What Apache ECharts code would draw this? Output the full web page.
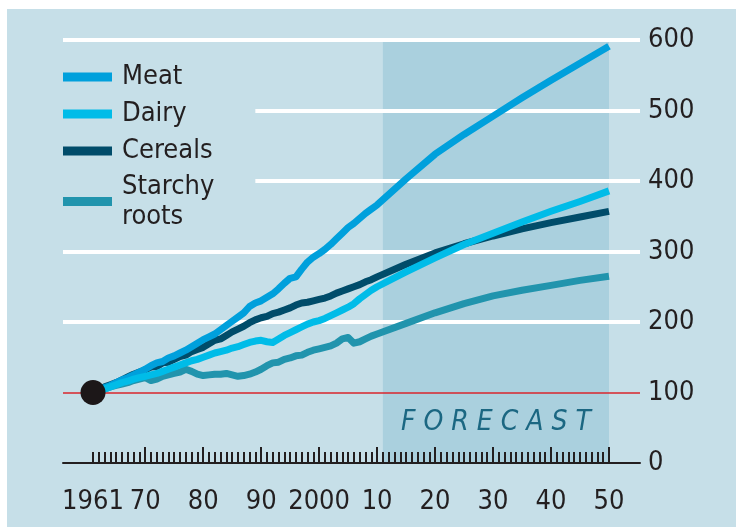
<!DOCTYPE html>
<html>
<head>
<meta charset="utf-8">
<script src="https://cdn.jsdelivr.net/npm/echarts@6/dist/echarts.min.js"></script>
<style>
  html, body { margin: 0; padding: 0; background: #ffffff; }
  #chart { width: 736px; height: 527px; }
</style>
</head>
<body>
<div id="chart"></div>
<script>
// Food consumption index, 1961 = 100 (history to 2010, forecast to 2050)
const years = [
  1961, 1962, 1963, 1964, 1965, 1966, 1967, 1968, 1969, 1970,
  1971, 1972, 1973, 1974, 1975, 1976, 1977, 1978, 1979, 1980,
  1981, 1982, 1983, 1984, 1985, 1986, 1987, 1988, 1989, 1990,
  1991, 1992, 1993, 1994, 1995, 1996, 1997, 1998, 1999, 2000,
  2001, 2002, 2003, 2004, 2005, 2006, 2007, 2008, 2009, 2010,
  2015, 2020, 2025, 2030, 2035, 2040, 2045, 2050
];

const meat = [
  100, 104, 107, 110, 114, 118, 121, 125, 129, 133,
  138, 142, 144, 149, 152, 156, 160, 165, 170, 175,
  179, 183, 189, 195, 201, 207, 213, 222, 227, 230,
  235, 240, 247, 255, 262, 264, 275, 285, 292, 297,
  303, 310, 318, 326, 334, 340, 347, 354, 360, 366,
  403, 438, 466, 492, 518, 543, 567, 591
];

const dairy = [
  100, 102, 105, 108, 111, 114, 116, 119, 121, 123,
  125, 127, 130, 133, 136, 139, 142, 145, 147, 150,
  153, 156, 158, 160, 163, 165, 168, 171, 173, 174,
  172, 171, 176, 181, 185, 189, 193, 197, 200, 202,
  205, 209, 213, 217, 221, 226, 233, 239, 245, 250,
  271, 291, 310, 326, 342, 357, 371, 386
];

const cereals = [
  100, 104, 108, 111, 114, 118, 122, 126, 129, 132,
  136, 137, 142, 143, 147, 151, 153, 158, 161, 164,
  169, 174, 176, 181, 186, 190, 194, 199, 203, 206,
  208, 212, 214, 217, 220, 224, 227, 228, 230, 232,
  234, 237, 241, 244, 247, 250, 253, 257, 260, 264,
  282, 298, 311, 322, 332, 341, 349, 357
];

const starchyRoots = [
  100, 103, 105, 108, 110, 112, 114, 117, 119, 121,
  117, 119, 123, 125, 127, 129, 133, 130, 126, 124,
  125, 126, 126, 127, 125, 123, 124, 126, 129, 133,
  138, 142, 143, 147, 149, 152, 153, 157, 160, 162,
  164, 166, 170, 176, 178, 170, 172, 176, 180, 183,
  198, 213, 226, 237, 245, 252, 259, 265
];

const forecastSpan = [2011, 2050];
const yTicks = { min: 0, max: 600, step: 100 };
const baseLevel = 100;
const labelYears = [1961, 1970, 1980, 1990, 2000, 2010, 2020, 2030, 2040, 2050];
const labelTexts = ['1961', '70', '80', '90', '2000', '10', '20', '30', '40', '50'];

// every year on the time axis gets a small tick
const tickYears = [];
for (let y = years[0]; y <= years[years.length - 1]; y++) tickYears.push(String(y));

const W = 736, H = 527;
const FONT = "'DejaVu Sans Condensed', 'DejaVu Sans', sans-serif";
const INK = '#231f20';
const PANEL = '#c6dfe8';
const COLORS = {
  meat: '#00a0dc',
  dairy: '#00bce8',
  cereals: '#004c6a',
  starchy: '#2194ad'
};

// plot frame
const frameLeft = 63, frameRight = 640, frameTop = 40, axisY = 463;
const firstYearX = 93, lastYearX = 609;

// layering: shaded band < grid lines and ticks < legend box < data lines < base dot
const Z_BAND = 1, Z_AXIS = 5, Z_LEGEND = 6, Z_LINES = 10, Z_DOT = 12;

const nLines = (yTicks.max - yTicks.min) / yTicks.step + 1;
const whiteLines = [], redLines = [];
for (let i = 0; i < nLines; i++) {
  const v = yTicks.min + i * yTicks.step;
  whiteLines.push(v > baseLevel ? '#ffffff' : 'rgba(0,0,0,0)');
  redLines.push(v === baseLevel ? '#d9262c' : 'rgba(0,0,0,0)');
}

function lineSeries(name, values, color) {
  return {
    name: name,
    type: 'line',
    xAxisIndex: 1,
    yAxisIndex: 2,
    data: years.map((y, i) => [y, values[i]]),
    showSymbol: false,
    symbol: 'none',
    silent: true,
    lineStyle: { color: color, width: 7, cap: 'butt', join: 'round' },
    itemStyle: { color: color },
    z: Z_LINES
  };
}

const legendText = { fontFamily: FONT, fontSize: 27, lineHeight: 30, color: INK, padding: [0, 0, 0, 5] };

const chart = echarts.init(document.getElementById('chart'), null, { renderer: 'canvas' });

chart.setOption({
  animation: false,
  graphic: {
    elements: [{
      type: 'rect',
      shape: { x: 7, y: 9, width: W - 7, height: H - 9 },
      style: { fill: PANEL },
      z: -10,
      silent: true
    }]
  },
  grid: [
    { left: frameLeft, right: W - frameRight, top: frameTop, bottom: H - axisY },
    { left: firstYearX, right: W - lastYearX, top: frameTop, bottom: H - axisY }
  ],
  legend: {
    orient: 'vertical',
    left: 63,
    top: 54,
    padding: [8, 41, 10, 0],
    backgroundColor: PANEL,
    z: Z_LEGEND,
    icon: 'rect',
    itemWidth: 49,
    itemHeight: 9,
    itemGap: 7,
    selectedMode: false,
    itemStyle: { borderWidth: 0 },
    formatter: n => n.replace(' ', '\n'),
    textStyle: legendText,
    data: [
      'Meat', 'Dairy', 'Cereals',
      { name: 'Starchy roots', textStyle: Object.assign({}, legendText, { padding: [0, 0, -30, 5] }) }
    ]
  },
  xAxis: [
    {
      gridIndex: 0, type: 'value', min: 0, max: 1, z: Z_AXIS,
      axisLine: { show: true, onZero: false, lineStyle: { color: INK, width: 2 } },
      axisTick: { show: false }, axisLabel: { show: false }, splitLine: { show: false }
    },
    {
      gridIndex: 1, type: 'value', min: years[0], max: years[years.length - 1], show: false
    },
    {
      gridIndex: 1, type: 'category', position: 'bottom', data: tickYears, boundaryGap: false, z: Z_AXIS,
      axisLine: { show: false },
      axisTick: { show: true, inside: true, interval: 0, length: 11, lineStyle: { color: INK, width: 2 } },
      axisLabel: { show: false }, splitLine: { show: false }
    },
    {
      gridIndex: 1, type: 'category', position: 'bottom', data: tickYears, boundaryGap: false, z: Z_AXIS,
      axisLine: { show: false },
      axisTick: {
        show: true, inside: true, length: 16,
        interval: (i, v) => Number(v) % 10 === 0,
        lineStyle: { color: INK, width: 2 }
      },
      axisLabel: {
        show: true,
        interval: (i, v) => labelYears.indexOf(Number(v)) >= 0,
        formatter: v => labelTexts[labelYears.indexOf(Number(v))],
        fontFamily: FONT, fontSize: 27, color: INK, margin: 25
      },
      splitLine: { show: false }
    }
  ],
  yAxis: [
    {
      gridIndex: 0, type: 'value', position: 'right',
      min: yTicks.min, max: yTicks.max, interval: yTicks.step, z: Z_AXIS,
      axisLine: { show: false }, axisTick: { show: false },
      axisLabel: { fontFamily: FONT, fontSize: 27, color: INK, margin: 8 },
      splitLine: { show: true, showMinLine: true, showMaxLine: true, lineStyle: { color: whiteLines, width: 4 } }
    },
    {
      gridIndex: 0, type: 'value', position: 'right',
      min: yTicks.min, max: yTicks.max, interval: yTicks.step, z: Z_AXIS,
      axisLine: { show: false }, axisTick: { show: false }, axisLabel: { show: false },
      splitLine: { show: true, showMinLine: true, showMaxLine: true, lineStyle: { color: redLines, width: 1.5 } }
    },
    {
      gridIndex: 1, type: 'value', min: yTicks.min, max: yTicks.max, show: false
    }
  ],
  series: [
    {
      name: 'forecast',
      type: 'line',
      xAxisIndex: 1,
      yAxisIndex: 2,
      data: [],
      silent: true,
      z: Z_BAND,
      markArea: {
        z: Z_BAND,
        silent: true,
        itemStyle: { color: '#aad0de' },
        label: {
          show: true,
          position: 'insideBottom',
          distance: 26,
          formatter: 'F O R E C A S T',
          fontFamily: FONT,
          fontStyle: 'italic',
          fontSize: 28,
          color: '#1b6782'
        },
        data: [[
          { xAxis: forecastSpan[0], yAxis: yTicks.min },
          { xAxis: forecastSpan[1], yAxis: yTicks.max }
        ]]
      }
    },
    lineSeries('Starchy roots', starchyRoots, COLORS.starchy),
    lineSeries('Cereals', cereals, COLORS.cereals),
    lineSeries('Meat', meat, COLORS.meat),
    lineSeries('Dairy', dairy, COLORS.dairy),
    {
      name: 'base',
      type: 'scatter',
      xAxisIndex: 1,
      yAxisIndex: 2,
      data: [[years[0], meat[0]]],
      symbolSize: 25,
      itemStyle: { color: '#1c1718', opacity: 1 },
      silent: true,
      z: Z_DOT
    }
  ]
});
</script>
</body>
</html>
